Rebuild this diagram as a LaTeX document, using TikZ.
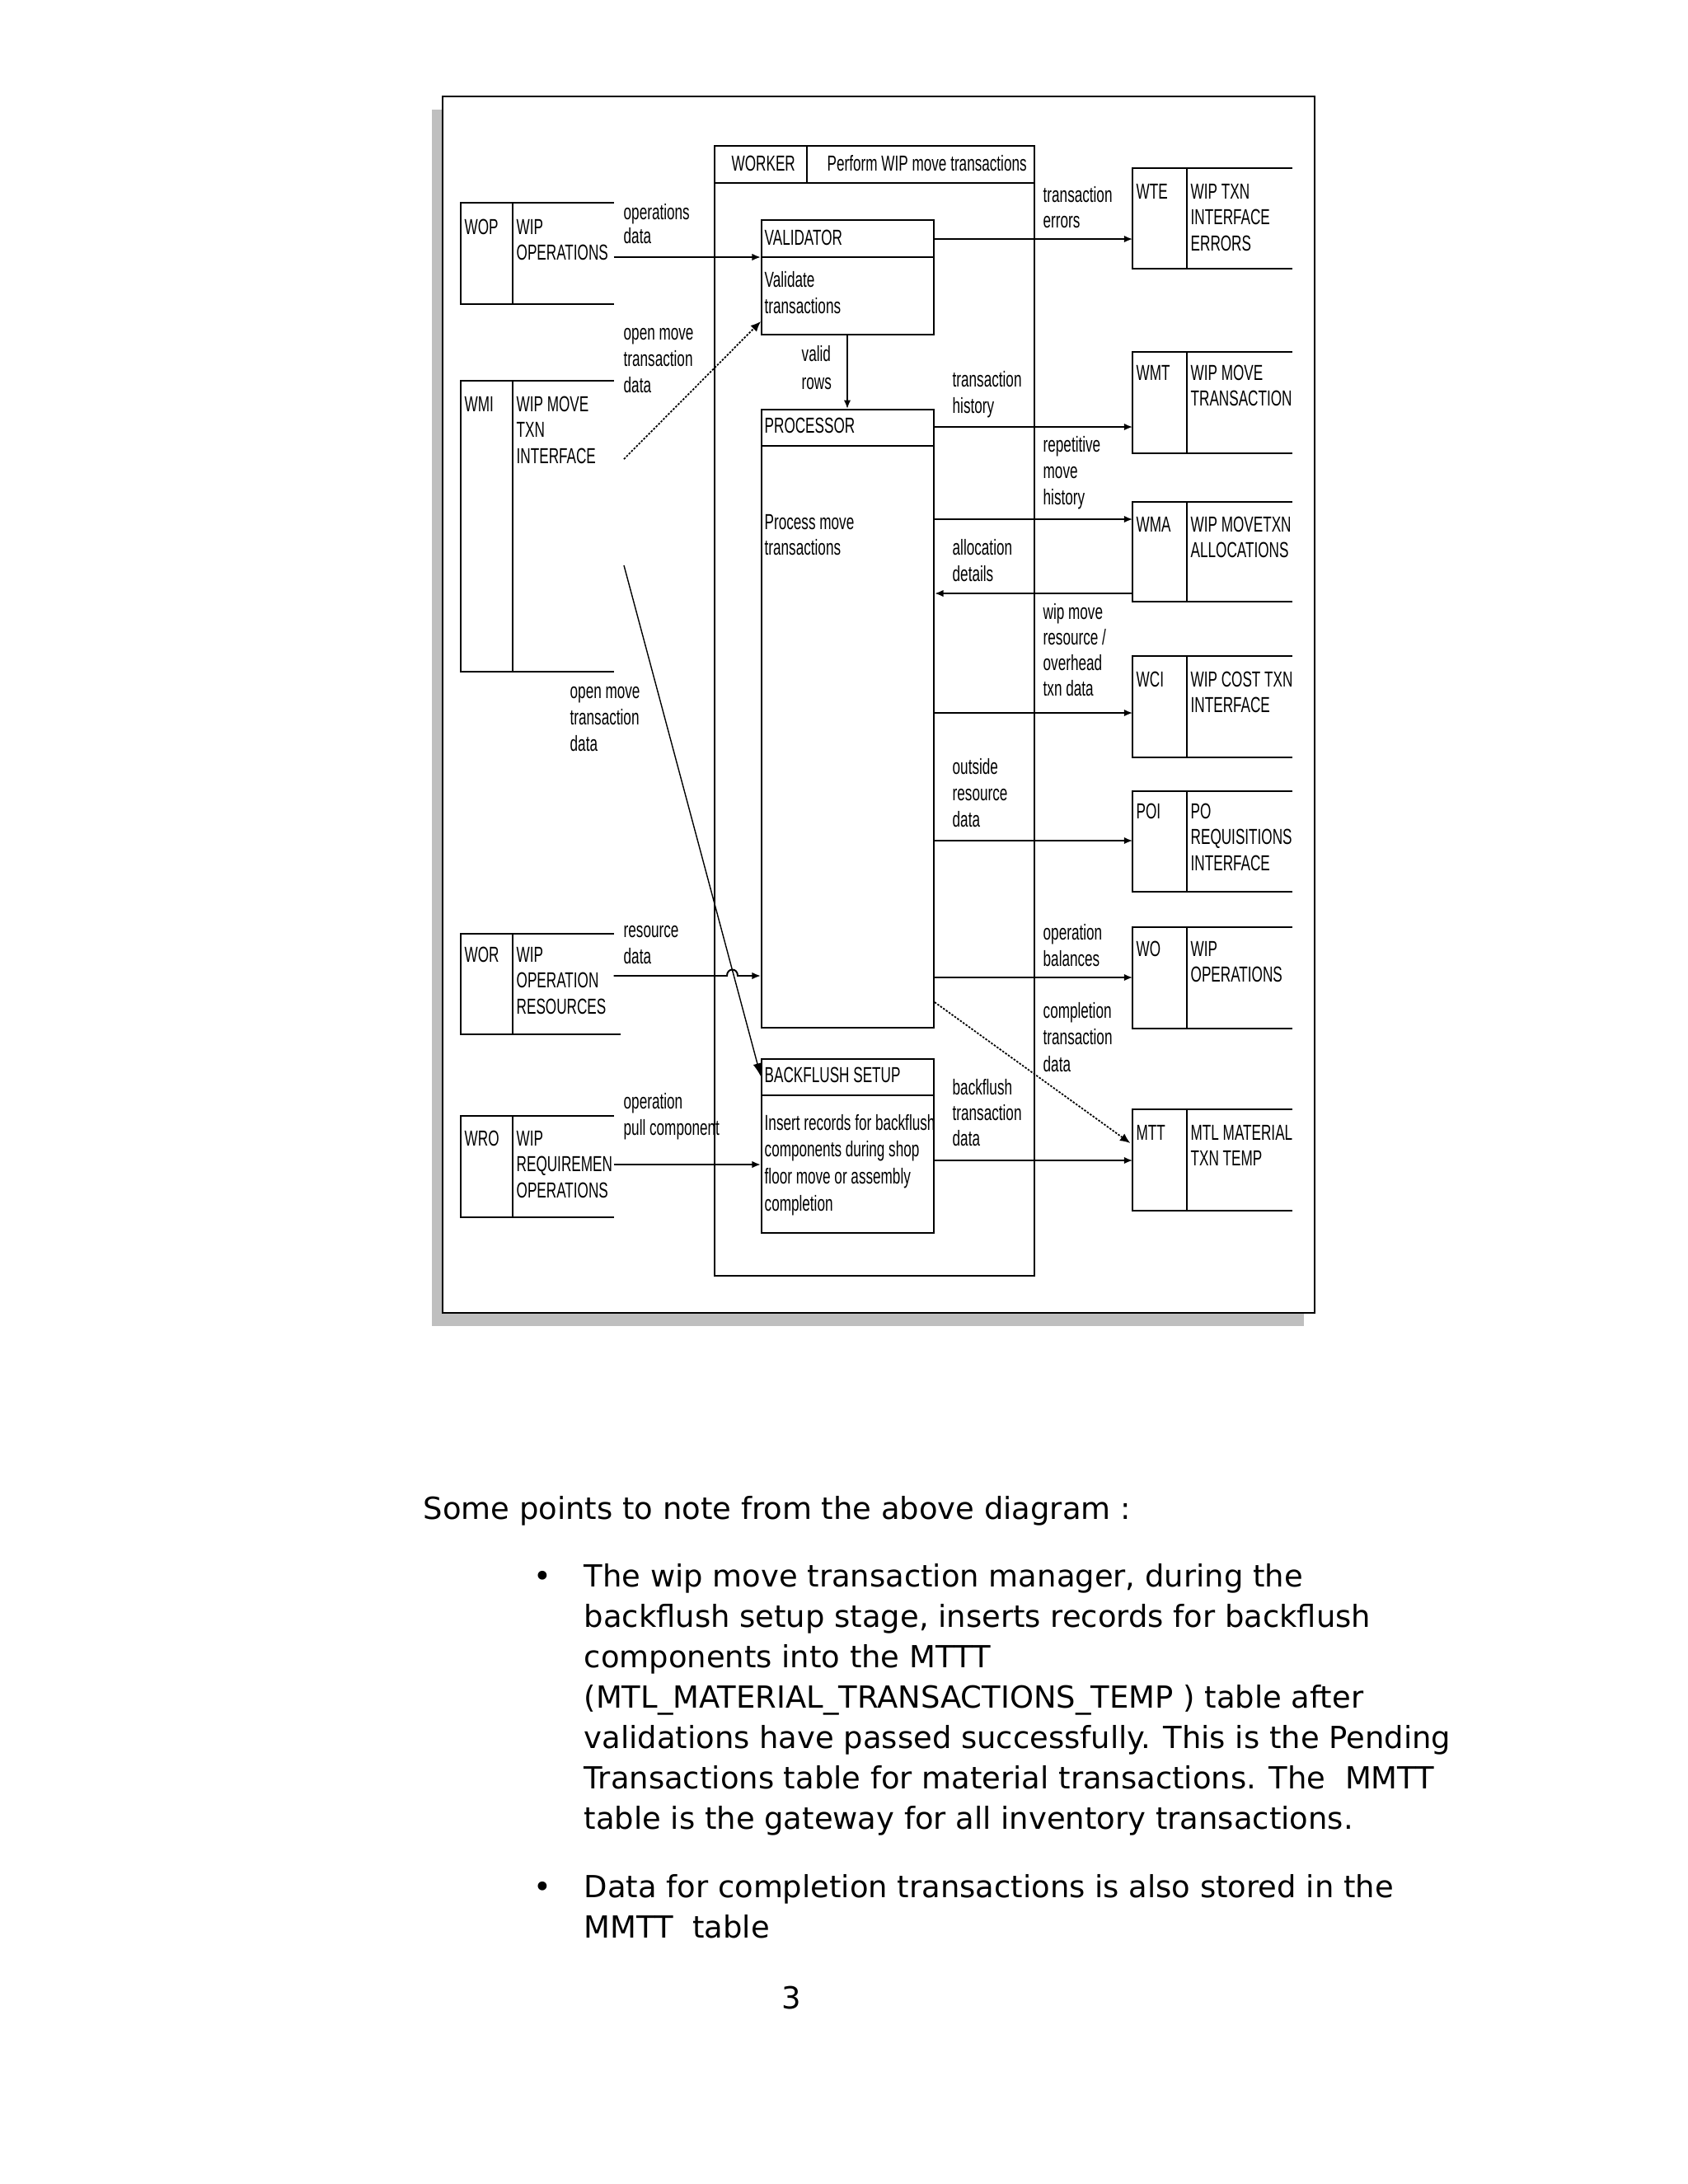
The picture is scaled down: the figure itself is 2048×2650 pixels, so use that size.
\documentclass[tikz,border=0pt]{standalone}
\usepackage{fontspec}
\setmainfont{DejaVu Sans}
\newfontfamily\diafont[FakeStretch=0.65]{Liberation Sans}
\usetikzlibrary{arrows.meta,fit,calc}
\tikzset{
 ln/.style={line width=0.55pt},
 lbl/.style={anchor=base west,inner sep=0pt,font=\diafont\fontsize{7.5}{9}\selectfont},
 arr/.style={ln,-{Latex[length=3pt,width=2.4pt]}},
 darr/.style={line width=0.5pt,dash pattern=on 0.7pt off 0.5pt,-{Latex[length=3.5pt,width=3pt]}},
 sarr/.style={line width=0.4pt,-{Latex[length=4.5pt,width=3pt]}},
 body/.style={anchor=base west,inner sep=0pt,font=\fontsize{10.5}{13}\selectfont},
}
\newcommand\lbls[5]{\foreach \tx [count=\k from 0] in {#5} {\node[lbl] (#1-\k) at (#2,#3+#4*\k) {\tx};}}
\newcommand\pbox[6]{%
 \coordinate (#1-a) at (#2,#3); \coordinate (#1-b) at (#4,#5);
 \node[draw,ln,fit=(#1-a)(#1-b),inner sep=0pt] (#1) {};
 \draw[ln] (#2,#6) -- (#4,#6);}
\newcommand\dstore[9]{%
 \coordinate (#1-a) at (#2,#3); \coordinate (#1-b) at (#4,#5);
 \node[fit=(#1-a)(#1-b),inner sep=0pt] (#1) {};
 \draw[ln] (#1.north east) -- (#1.north west) -- (#1.south west) -- (#1.south east);
 \draw[ln] (#6,#3) -- (#6,#5);
 \node[lbl] (#1-code) at (#2+3,#8) {#7};
 \lbls{#1-n}{#6+4}{#8}{31.5}{#9}}
\begin{document}
\begin{tikzpicture}[x=0.01cm,y=-0.01cm]
\useasboundingbox (0,0) rectangle (2048,2650);
% frame with shadow
\fill[gray!50] (524,133) rectangle (1582,1609);
\draw[line width=0.65pt,fill=white] (537,117) rectangle (1595,1593);
% worker
\pbox{worker}{867}{177}{1255}{1548}{222}
\draw[ln] (979,177) -- (979,222);
\node[lbl] (workerT) at (887,207) {WORKER};
\node[lbl] (workerD) at (1003,207) {Perform WIP move transactions};
% processes
\pbox{validator}{924}{267}{1133}{406}{312}
\node[lbl] (valT) at (927,297) {VALIDATOR};
\lbls{valB}{927}{348}{32}{Validate,transactions}
\pbox{processor}{924}{497}{1133}{1247}{541}
\node[lbl] (procT) at (927,525) {PROCESSOR};
\lbls{procB}{927}{642}{31}{Process move,transactions}
\pbox{backflush}{924}{1285}{1133}{1496}{1329}
\node[lbl] (bfT) at (927,1313) {BACKFLUSH SETUP};
\lbls{bfB}{927}{1371}{32.7}{Insert records for backflush,components during shop,floor move or assembly,completion}
% left stores
\dstore{wop}{560}{247}{744}{368}{622}{WOP}{284}{WIP,OPERATIONS}
\dstore{wmi}{560}{463}{744}{814}{622}{WMI}{499}{WIP MOVE,TXN,INTERFACE}
\dstore{wor}{560}{1134}{744}{1254}{622}{WOR}{1167}{WIP,OPERATION,RESOURCES}
\draw[ln] (wor.south east) -- ++(8,0);
\dstore{wro}{560}{1355}{744}{1476}{622}{WRO}{1390}{WIP,REQUIREMEN,OPERATIONS}
% right stores
\dstore{wte}{1375}{205}{1567}{325}{1440}{WTE}{241}{WIP TXN,INTERFACE,ERRORS}
\dstore{wmt}{1375}{428}{1567}{549}{1440}{WMT}{461}{WIP MOVE,TRANSACTION}
\dstore{wma}{1375}{610}{1567}{729}{1440}{WMA}{645}{WIP MOVETXN,ALLOCATIONS}
\dstore{wci}{1375}{797}{1567}{918}{1440}{WCI}{833}{WIP COST TXN,INTERFACE}
\dstore{poi}{1375}{961}{1567}{1081}{1440}{POI}{993}{PO,REQUISITIONS,INTERFACE}
\dstore{wo}{1375}{1126}{1567}{1247}{1440}{WO}{1160}{WIP,OPERATIONS}
\dstore{mtt}{1375}{1347}{1567}{1468}{1440}{MTT}{1383}{MTL MATERIAL,TXN TEMP}
% connector labels
\lbls{L1}{756}{266}{29}{operations,data}
\lbls{L2}{756}{412}{32}{open move,transaction,data}
\lbls{L3}{972}{438}{34}{valid,rows}
\lbls{L4}{691}{847}{32}{open move,transaction,data}
\lbls{L5}{756}{1137}{32}{resource,data}
\lbls{L6}{756}{1345}{32.5}{operation,pull component}
\lbls{R1}{1265}{245}{31}{transaction,errors}
\lbls{R2}{1155}{469}{32}{transaction,history}
\lbls{R3}{1265}{548}{32}{repetitive,move,history}
\lbls{R4}{1155}{673}{32}{allocation,details}
\lbls{R5}{1265}{751}{31.3}{wip move,resource /,overhead,txn data}
\lbls{R6}{1155}{939}{32}{outside,resource,data}
\lbls{R7}{1265}{1140}{32}{operation,balances}
\lbls{R8}{1265}{1235}{32.5}{completion,transaction,data}
\lbls{R9}{1155}{1328}{31}{backflush,transaction,data}
% connector levels
\coordinate (y1) at (0,312);
\coordinate (y2) at (0,390);
\coordinate (x3) at (1028,0);
\coordinate (y4) at (0,290);
\coordinate (y5) at (0,518);
\coordinate (y6) at (0,630);
\coordinate (y7) at (0,720);
\coordinate (y8) at (0,865);
\coordinate (y9) at (0,1020);
\coordinate (y10) at (0,1186);
\coordinate (y11a) at (0,1216);
\coordinate (y11b) at (0,1387);
\coordinate (y12) at (0,1408);
\coordinate (y13) at (0,1306);
\coordinate (y14) at (0,1184);
\coordinate (y15) at (0,1413);
\coordinate (wmiout1) at (757,557);
\coordinate (wmiout2) at (757,686);
\coordinate (hopA) at (882,1184);
\coordinate (hopB) at (895,1184);
% connectors
\draw[arr] (wop.east |- y1) -- (validator.west |- y1);
\draw[darr] (wmiout1) -- (validator.west |- y2);
\draw[arr] (validator.south -| x3) -- (processor.north -| x3);
\draw[arr] (validator.east |- y4) -- (wte.west |- y4);
\draw[arr] (processor.east |- y5) -- (wmt.west |- y5);
\draw[arr] (processor.east |- y6) -- (wma.west |- y6);
\draw[arr] (wma.west |- y7) -- (processor.east |- y7);
\draw[arr] (processor.east |- y8) -- (wci.west |- y8);
\draw[arr] (processor.east |- y9) -- (poi.west |- y9);
\draw[arr] (processor.east |- y10) -- (wo.west |- y10);
\draw[darr] (processor.east |- y11a) -- ($(mtt.west |- y11b)+(-3,0)$);
\draw[arr] (backflush.east |- y12) -- (mtt.west |- y12);
\draw[sarr] (wmiout2) -- (backflush.west |- y13);
\draw[arr] (wor.east |- y14) -- (hopA) .. controls ($(hopA)+(0,-10)$) and ($(hopB)+(0,-10)$) .. (hopB) -- (processor.west |- y14);
\draw[arr] (wro.east |- y15) -- (backflush.west |- y15);
% text below
\node[body] (intro) at (513,1843) {Some points to note from the above diagram :};
\node[body] (bul1) at (647,1925) {•};
\foreach \tx [count=\k from 0] in {%
 {The wip move transaction manager, during the},
 {backflush setup stage, inserts records for backflush},
 {components into the MTTT},
 {(MTL\_MATERIAL\_TRANSACTIONS\_TEMP ) table after},
 {validations have passed successfully. This is the Pending},
 {Transactions table for material transactions. The\ \ MMTT},
 {table is the gateway for all inventory transactions.}}
 {\node[body] (p1-\k) at (708,1925+49*\k) {\tx};}
\node[body] (bul2) at (647,2302) {•};
\node[body] (p2-0) at (708,2302) {Data for completion transactions is also stored in the};
\node[body] (p2-1) at (708,2351) {MMTT\ \ table};
\node[body] (pagenum) at (948,2437) {3};
\end{tikzpicture}
\end{document}
